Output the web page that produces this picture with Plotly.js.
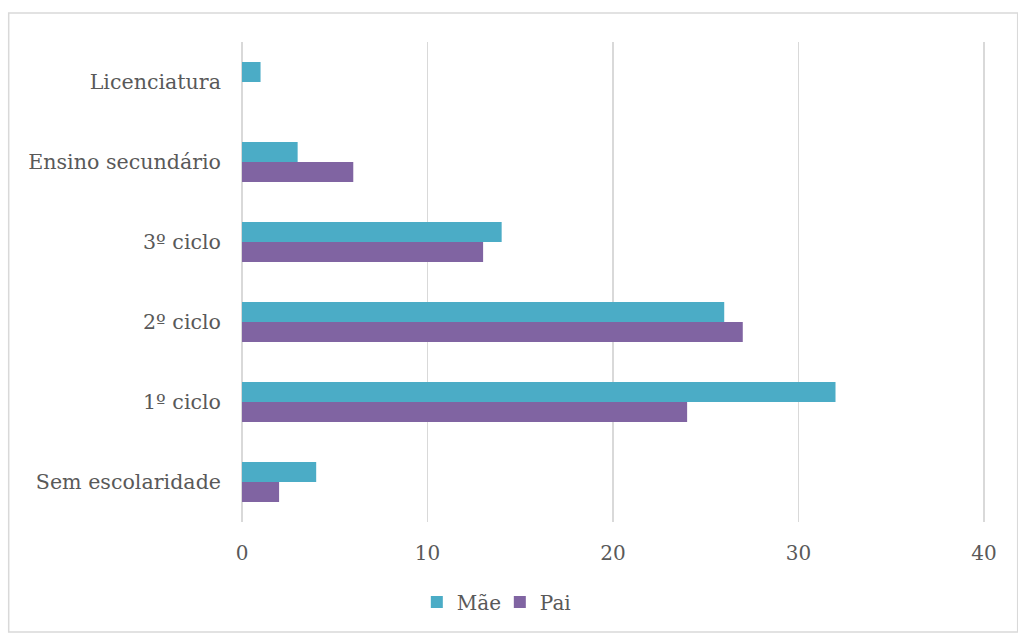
<!DOCTYPE html>
<html>
<head>
<meta charset="utf-8">
<script src="https://cdn.plot.ly/plotly-3.0.1.min.js"></script>
<style>html,body{margin:0;padding:0;background:#fff;}#chart{width:1018px;height:633px;}</style>
</head>
<body>
<div id="chart"></div>
<script>
var categories = ["Sem escolaridade", "1º ciclo", "2º ciclo", "3º ciclo", "Ensino secundário", "Licenciatura"];
var maeValues = [4, 32, 26, 14, 3, 1];
var paiValues = [2, 24, 27, 13, 6, 0];
var xTicks = [0, 10, 20, 30, 40];

var font = "DejaVu Serif, Georgia, serif";
var traces = [
  {type: "bar", orientation: "h", name: "Pai", y: categories, x: paiValues,
   marker: {color: "#8064A2"}, hoverinfo: "x+y"},
  {type: "bar", orientation: "h", name: "Mãe", y: categories, x: maeValues,
   marker: {color: "#4BACC6"}, hoverinfo: "x+y"}
];
var layout = {
  width: 1018, height: 633,
  margin: {l: 242, r: 33, t: 42, b: 111},
  paper_bgcolor: "#fff", plot_bgcolor: "#fff",
  barmode: "group", bargap: 0.5, bargroupgap: 0,
  font: {family: font, size: 20, color: "#595959"},
  xaxis: {range: [0, 40.06], tickvals: xTicks, ticktext: xTicks.map(String),
          showgrid: true, gridcolor: "#d9d9d9", gridwidth: 1.5,
          zeroline: true, zerolinecolor: "#d9d9d9", zerolinewidth: 1.5,
          showline: false, ticks: "", ticklabelstandoff: 17,
          tickfont: {family: font, size: 20, color: "#595959"}, fixedrange: true},
  yaxis: {type: "category", categoryorder: "array", categoryarray: categories,
          range: [-0.5, 5.5], showgrid: false, zeroline: false, showline: false,
          ticks: "", ticklabelstandoff: 20,
          tickfont: {family: font, size: 20.6, color: "#595959"}, fixedrange: true},
  legend: {orientation: "h", traceorder: "reversed", x: 0.347, xanchor: "center",
           y: -0.1667, yanchor: "middle", font: {family: font, size: 20, color: "#595959"},
           itemwidth: 30, entrywidth: 38, tracegroupgap: 0},
  showlegend: true,
  shapes: [{type: "rect", xref: "paper", yref: "paper",
            x0: -0.314, x1: 1.044, y0: -0.229, y1: 1.0604,
            line: {color: "#d9d9d9", width: 1.5}, fillcolor: "rgba(0,0,0,0)", layer: "below"}]
};
Plotly.newPlot("chart", traces, layout, {displayModeBar: false, staticPlot: true});
</script>
</body>
</html>
